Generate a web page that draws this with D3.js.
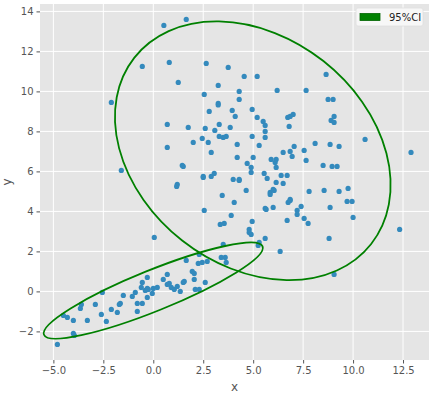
<!DOCTYPE html>
<html>
<head>
<meta charset="utf-8">
<script src="https://cdn.jsdelivr.net/npm/d3@7"></script>
<style>
  body { margin: 0; background: #fff; }
  text { font-family: "DejaVu Sans", sans-serif; }
</style>
</head>
<body>
<div id="chart"></div>
<script>
// lower cluster points
const lowX = [-4.8,-4.0,-3.95,-4.5,-4.3,-4.0,-3.65,-3.6,-3.3,-2.9,-2.6,-2.35,-2.55,-2.1,-1.8,-1.65,-1.7,-1.5,-1.05,-0.9,-0.8,-0.55,-0.8,-0.3,-0.6,-0.55,-0.3,-0.25,-0.4,-0.3,-0.05,0.0,0.2,0.5,0.7,0.7,0.8,0.9,1.05,1.2,1.35,1.5,1.55,1.65,1.95,2.05,2.05,2.1,2.3,2.6,2.25,2.45,2.7,2.3,0.05]
const lowY = [-2.65,-2.1,-2.2,-1.2,-1.3,-1.45,-0.85,-0.65,-1.45,-0.65,-1.15,-1.5,-0.05,-0.9,-1.05,-0.6,-0.65,-0.2,-0.25,-0.05,-0.6,-0.6,-1.0,-0.3,0.2,0.45,0.7,0.1,0.05,0.15,-0.1,0.15,0.2,0.6,0.85,0.35,0.4,0.2,0.1,0.25,0.0,0.45,0.5,1.55,1.0,0.9,0.6,0.1,0.1,0.45,1.4,1.45,1.5,1.85,2.7]

// upper cluster points
const highX = [0.53,1.65,-0.55,0.8,2.65,1.25,-2.1,2.55,2.8,0.7,1.75,2.6,3.08,0.7,2.0,2.45,2.75,2.9,-1.6,1.45,1.5,1.2,1.17,2.5,2.5,2.9,3.05,
  3.75,4.55,5.2,8.65,3.25,4.3,6.2,7.65,4.3,8.75,9.0,3.25,3.25,3.95,4.95,4.1,5.2,5.5,5.6,5.6,5.6,4.95,6.73,6.85,7.0,6.8,9.05,8.9,9.05,3.3,3.85,3.3,3.5,3.65,4.2,5.3,7.05,8.1,8.85,9.3,10.6,12.9,6.85,7.55,6.5,4.2,5.0,6.95,5.9,6.15,6.1,6.15,7.65,4.7,4.9,4.9,8.5,8.95,9.2,4.0,4.3,4.3,5.55,5.7,6.4,6.7,6.15,6.5,4.65,3.45,5.85,5.85,6.0,6.05,7.8,8.55,9.3,9.75,6.85,
  9.7,9.95,10.0,12.33,8.8,8.85,9.05,2.55,4.05,3.9,3.35,3.55,4.95,4.8,4.8,4.9,5.6,5.65,6.0,6.75,6.85,7.4,7.2,7.2,7.55,7.75,6.7,5.6,5.3,5.25,6.35,3.5,3.4,3.6,3.65]
const highY = [13.3,13.6,11.25,11.45,11.4,10.45,9.45,9.85,9.0,8.35,8.2,8.15,8.05,7.2,7.45,7.65,7.45,6.95,6.05,6.3,6.25,5.35,5.25,5.75,5.7,5.75,5.9,
  11.2,10.75,10.75,10.85,10.3,10.0,10.05,10.05,9.6,9.6,9.6,9.4,9.32,9.05,9.1,8.75,8.7,8.5,8.3,8.0,7.7,7.75,8.7,8.75,8.85,8.25,8.75,8.55,8.45,8.35,8.2,7.75,7.7,7.75,7.35,7.3,7.25,7.4,7.35,7.25,7.6,6.95,7.0,7.05,6.95,6.7,6.7,6.75,6.6,6.6,6.45,6.2,6.55,6.4,6.2,5.95,6.3,6.25,6.25,5.6,5.6,5.55,5.9,5.65,5.8,5.8,5.45,5.4,5.05,4.8,4.95,4.85,5.1,5.05,5.0,5.05,5.0,5.15,4.6,
  4.5,4.5,3.7,3.1,2.65,4.2,0.85,4.05,4.45,3.8,3.35,3.4,3.5,3.1,2.95,2.85,4.15,4.1,4.2,4.45,4.55,4.25,4.05,3.85,3.65,3.4,3.55,2.65,2.45,2.3,2.0,2.35,1.7,1.7,1.45]

// 95% CI ellipses: centre x, centre y, semi-major, semi-minor, angle (deg)
const ellCx = [0.0, 4.98]
const ellCy = [0.04, 7.03]
const ellA = [5.9, 7.54]
const ellB = [1.02, 5.71]
const ellAng = [22, -38.2]

const xTicks = [-5, -2.5, 0, 2.5, 5, 7.5, 10, 12.5]
const yTicks = [-2, 0, 2, 4, 6, 8, 10, 12, 14]

const W = 432, H = 394
const L = 40, R = 429, T = 4, B = 360

const svg = d3.select("#chart").append("svg")
  .attr("width", W).attr("height", H)

const x = d3.scaleLinear().domain([-5.67, 13.8]).range([L, R])
const y = d3.scaleLinear().domain([-3.43, 14.37]).range([B, T])

svg.append("rect")
  .attr("x", L).attr("y", T).attr("width", R - L).attr("height", B - T)
  .attr("fill", "#e5e5e5")

// grid
svg.append("g").selectAll("line").data(xTicks).join("line")
  .attr("x1", d => x(d)).attr("x2", d => x(d))
  .attr("y1", T).attr("y2", B)
  .attr("stroke", "#fff").attr("stroke-width", 1)
svg.append("g").selectAll("line").data(yTicks).join("line")
  .attr("y1", d => y(d)).attr("y2", d => y(d))
  .attr("x1", L).attr("x2", R)
  .attr("stroke", "#fff").attr("stroke-width", 1)

const fmtX = d => d3.format(".1f")(d).replace("-", "\u2212")
const fmtY = d => String(d).replace("-", "\u2212")

const xAxis = svg.append("g")
  .attr("transform", `translate(0,${B})`)
  .call(d3.axisBottom(x).tickValues(xTicks).tickFormat(fmtX).tickSize(3.5).tickPadding(3))
const yAxis = svg.append("g")
  .attr("transform", `translate(${L},0)`)
  .call(d3.axisLeft(y).tickValues(yTicks).tickFormat(fmtY).tickSize(3.5).tickPadding(3))

for (const g of [xAxis, yAxis]) {
  g.select(".domain").remove()
  g.selectAll(".tick line").attr("stroke", "#555")
  g.selectAll(".tick text").attr("fill", "#555").attr("font-size", 10)
    .attr("font-family", "DejaVu Sans")
}

svg.append("text").attr("x", (L + R) / 2).attr("y", 391)
  .attr("text-anchor", "middle").attr("font-size", 12).attr("fill", "#555").text("x")
svg.append("text").attr("transform", `translate(11,${(T + B) / 2}) rotate(-90)`)
  .attr("text-anchor", "middle").attr("font-size", 12).attr("fill", "#555").text("y")

// points
const pts = lowX.map((d, i) => [d, lowY[i]]).concat(highX.map((d, i) => [d, highY[i]]))
svg.append("g").selectAll("circle").data(pts).join("circle")
  .attr("cx", d => x(d[0])).attr("cy", d => y(d[1])).attr("r", 2.6)
  .attr("fill", "#348abd")

// ellipses
svg.append("g").selectAll("ellipse").data(ellCx).join("ellipse")
  .attr("cx", d => x(d)).attr("cy", (d, i) => y(ellCy[i]))
  .attr("rx", (d, i) => x(d + ellA[i]) - x(d))
  .attr("ry", (d, i) => y(ellCy[i]) - y(ellCy[i] + ellB[i]))
  .attr("transform", (d, i) => `rotate(${-ellAng[i]},${x(d)},${y(ellCy[i])})`)
  .attr("fill", "none").attr("stroke", "green").attr("stroke-width", 1.8)

// legend
const lg = svg.append("g")
lg.append("rect").attr("x", 356).attr("y", 8).attr("width", 67).attr("height", 18)
  .attr("rx", 2).attr("fill", "#f7f7f7").attr("stroke", "#e0e0e0").attr("stroke-width", 0.8)
lg.append("rect").attr("x", 360).attr("y", 13.5).attr("width", 20).attr("height", 7)
  .attr("fill", "green").attr("stroke", "#006400").attr("stroke-width", 0.8)
lg.append("text").attr("x", 389).attr("y", 21).attr("font-size", 10)
  .attr("fill", "#222").text("95%CI")
</script>
</body>
</html>
